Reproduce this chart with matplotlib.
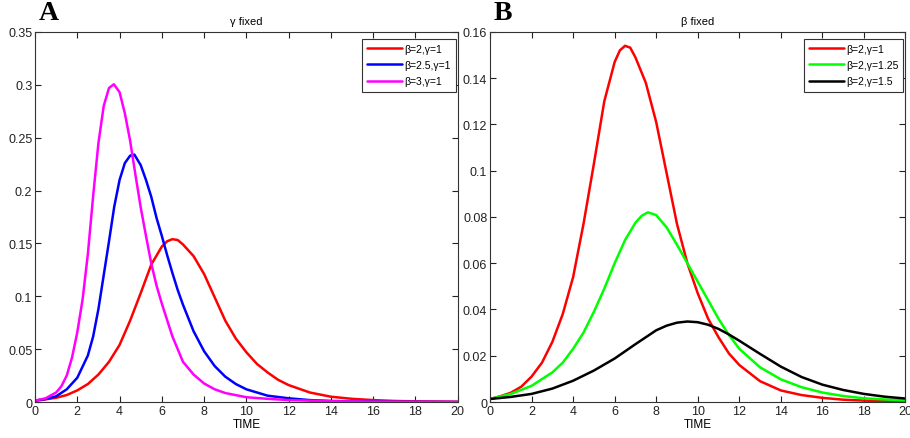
import matplotlib
matplotlib.use("Agg")
import matplotlib.pyplot as plt
from matplotlib.ticker import FuncFormatter, MultipleLocator

plt.rcParams['font.family'] = ['Liberation Sans', 'DejaVu Sans']

# ---------------- данные ----------------
# beta=2, gamma=1 (красная кривая, есть на обеих панелях)
t_red = [0, 0.5, 1, 1.5, 2, 2.5, 3, 3.5, 4, 4.5, 5, 5.5, 6, 6.25, 6.5, 6.75, 7, 7.5, 8, 8.5,
         9, 9.5, 10, 10.5, 11, 11.5, 12, 13, 14, 15, 16, 17, 18, 20]
v_red = [0.0013, 0.0025, 0.004, 0.0066, 0.011, 0.017, 0.026, 0.038, 0.054, 0.077, 0.103, 0.13,
         0.147, 0.152, 0.154, 0.1532, 0.149, 0.138, 0.121, 0.099, 0.077, 0.06, 0.047, 0.036,
         0.028, 0.021, 0.016, 0.009, 0.005, 0.003, 0.0018, 0.001, 0.0006, 0.0002]

# beta=2.5, gamma=1
t_blue = [0, 0.5, 1, 1.5, 2, 2.5, 2.75, 3, 3.25, 3.5, 3.75, 4, 4.25, 4.5, 4.7, 5, 5.25, 5.5,
          5.75, 6, 6.25, 6.5, 6.75, 7, 7.5, 8, 8.5, 9, 9.5, 10, 11, 12, 13, 14, 15, 17, 20]
v_blue = [0.0013, 0.0028, 0.0054, 0.012, 0.023, 0.044, 0.062, 0.088, 0.12, 0.152, 0.185, 0.21,
          0.226, 0.233, 0.234, 0.224, 0.21, 0.194, 0.174, 0.157, 0.139, 0.122, 0.106, 0.092,
          0.067, 0.048, 0.034, 0.024, 0.017, 0.012, 0.006, 0.0035, 0.0018, 0.001, 0.0005,
          0.0002, 0.0]

# beta=3, gamma=1
t_mag = [0, 0.5, 1, 1.25, 1.5, 1.75, 2, 2.25, 2.5, 2.75, 3, 3.25, 3.5, 3.73, 4, 4.25, 4.5, 4.75,
         5, 5.25, 5.5, 5.75, 6, 6.5, 7, 7.5, 8, 8.5, 9, 10, 11, 12, 14, 16, 20]
v_mag = [0.0013, 0.0035, 0.009, 0.015, 0.025, 0.042, 0.066, 0.097, 0.14, 0.195, 0.245, 0.28,
         0.297, 0.3005, 0.293, 0.273, 0.247, 0.215, 0.184, 0.157, 0.131, 0.11, 0.093, 0.062,
         0.038, 0.026, 0.0175, 0.012, 0.0085, 0.0045, 0.003, 0.0018, 0.0007, 0.0003, 0.0]

# beta=2, gamma=1.25
t_green = [0, 1, 2, 3, 3.5, 4, 4.5, 5, 5.5, 6, 6.5, 7, 7.3, 7.6, 8, 8.5, 9, 9.5, 10, 10.5, 11,
           11.5, 12, 13, 14, 15, 16, 17, 18, 19, 20]
v_green = [0.0013, 0.0035, 0.007, 0.0128, 0.017, 0.023, 0.03, 0.039, 0.049, 0.06, 0.07, 0.0775,
           0.0805, 0.082, 0.0808, 0.0755, 0.068, 0.06, 0.052, 0.044, 0.036, 0.029, 0.023, 0.015,
           0.0098, 0.0064, 0.0041, 0.0026, 0.0016, 0.0011, 0.0007]

# beta=2, gamma=1.5
t_black = [0, 1, 2, 3, 4, 5, 6, 7, 7.5, 8, 8.5, 9, 9.5, 10, 10.5, 11, 11.5, 12, 13, 14, 15, 16,
           17, 18, 19, 20]
v_black = [0.0013, 0.0022, 0.0035, 0.0058, 0.0092, 0.0136, 0.0188, 0.025, 0.028, 0.031, 0.033,
           0.0343, 0.0348, 0.0345, 0.0334, 0.0316, 0.0292, 0.0265, 0.0208, 0.0153, 0.0108, 0.0075,
           0.0052, 0.0035, 0.0023, 0.0015]

labels_a = ['β=2,γ=1', 'β=2.5,γ=1', 'β=3,γ=1']
labels_b = ['β=2,γ=1', 'β=2,γ=1.25', 'β=2,γ=1.5']

# ---------------- рисунок ----------------
fig = plt.figure(figsize=(9.10, 4.39), dpi=100)
ax_a = fig.add_axes([0.0385, 0.082, 0.4645, 0.843])
ax_b = fig.add_axes([0.5385, 0.082, 0.4565, 0.843])

kw = dict(lw=1.8, solid_joinstyle='round', solid_capstyle='round')
ax_a.plot(t_red, v_red, color='#ff0000', label=labels_a[0], **kw)
ax_a.plot(t_blue, v_blue, color='#0000ff', label=labels_a[1], **kw)
ax_a.plot(t_mag, v_mag, color='#ff00ff', label=labels_a[2], **kw)

ax_b.plot(t_red, v_red, color='#ff0000', label=labels_b[0], **kw)
ax_b.plot(t_green, v_green, color='#00ff00', label=labels_b[1], **kw)
ax_b.plot(t_black, v_black, color='#000000', label=labels_b[2], **kw)

fmt = FuncFormatter(lambda v, p: '%g' % round(v, 4))

for ax, ymax, ystep, title, letter in [(ax_a, 0.35, 0.05, 'γ fixed', 'A'),
                                       (ax_b, 0.16, 0.02, 'β fixed', 'B')]:
    ax.set_xlim(0, 20)
    ax.set_ylim(0, ymax)
    ax.xaxis.set_major_locator(MultipleLocator(2))
    ax.yaxis.set_major_locator(MultipleLocator(ystep))
    ax.xaxis.set_major_formatter(fmt)
    ax.yaxis.set_major_formatter(fmt)
    ax.tick_params(direction='in', top=True, right=True, length=4, width=0.8,
                   labelsize=9, pad=2, colors='#222222')
    for sp in ax.spines.values():
        sp.set_color('#333333')
        sp.set_linewidth(0.8)
    ax.set_xlabel('TIME', fontsize=8.5, labelpad=1)
    ax.set_title(title, fontsize=8, pad=6)
    ax.text(0.008, 1.02, letter, transform=ax.transAxes, fontsize=20, fontweight='bold',
            family='Liberation Serif', ha='left', va='bottom')
    leg = ax.legend(loc='upper right', bbox_to_anchor=(0.995, 0.982), borderaxespad=0,
                    fontsize=7.5, fancybox=False, framealpha=1, edgecolor='#333333',
                    handlelength=3.3, handletextpad=0.2, labelspacing=0.6,
                    borderpad=0.5)
    leg.get_frame().set_linewidth(0.8)

fig.savefig('out.png', dpi=100)
